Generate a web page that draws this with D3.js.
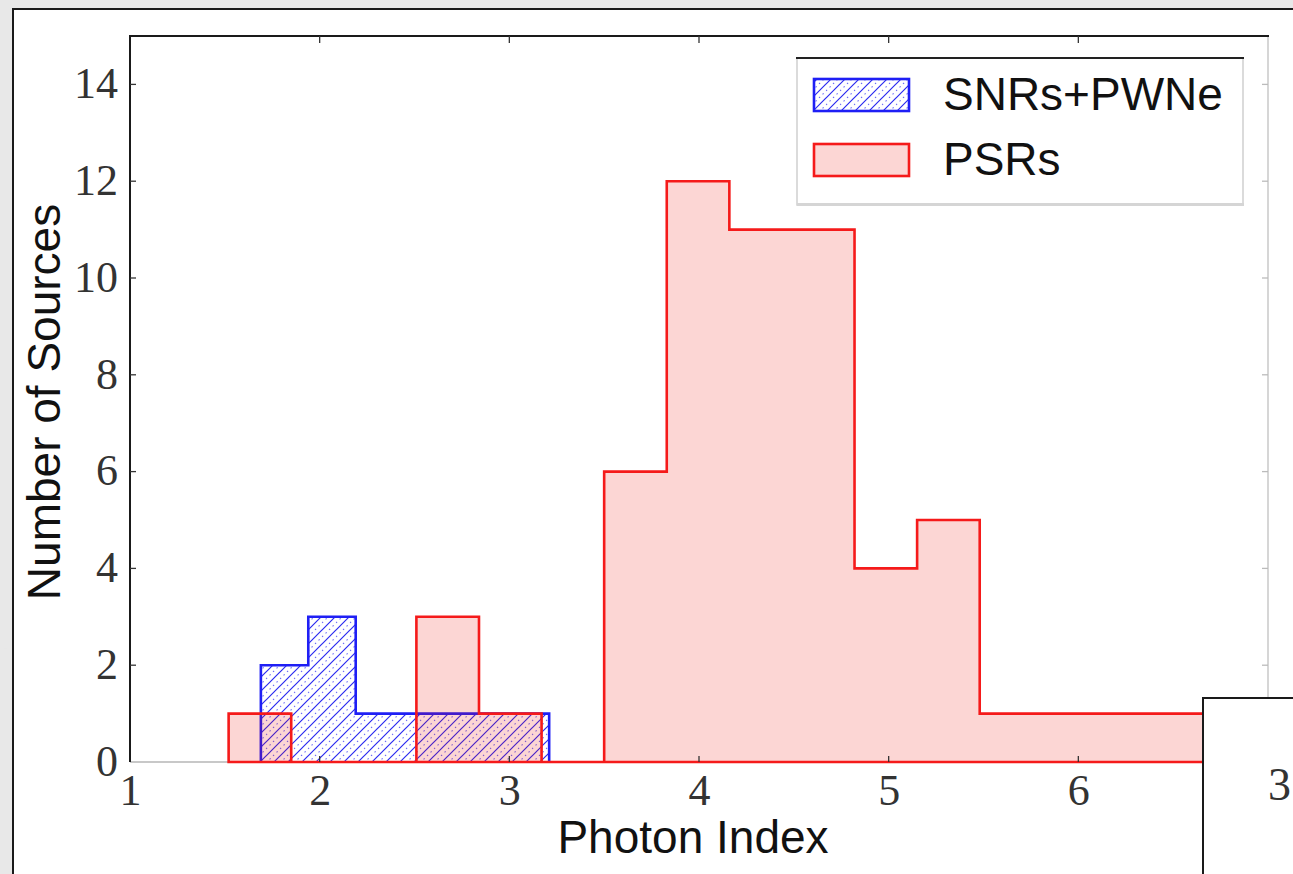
<!DOCTYPE html>
<html>
<head>
<meta charset="utf-8">
<script src="https://cdn.jsdelivr.net/npm/d3@7"></script>
<style>
  body { margin: 0; background: #e3e3e3; }
  svg { display: block; }
</style>
</head>
<body>
<div id="viz"></div>
<script>
// histogram data (bin edges + counts)
var psrEdges = [1.52, 1.85, 2.18, 2.51, 2.84, 3.17, 3.50, 3.83, 4.16, 4.49, 4.82, 5.15, 5.48, 5.81, 6.14, 6.47, 6.80];
var psrCounts = [1, 0, 0, 3, 1, 0, 6, 12, 11, 11, 4, 5, 1, 1, 1, 1];
var snrEdges = [1.69, 1.94, 2.19, 2.45, 2.70, 2.95, 3.21];
var snrCounts = [2, 3, 1, 1, 1, 1];
var xTicks = [1, 2, 3, 4, 5, 6];
var yTicks = [0, 2, 4, 6, 8, 10, 12, 14];
var legendLabels = ["SNRs+PWNe", "PSRs"];

var W = 1293, H = 874;
var svg = d3.select("#viz").append("svg").attr("width", W).attr("height", H);
var defs = svg.append("defs");

// marbled page background
var f = defs.append("filter").attr("id", "marble").attr("x", 0).attr("y", 0).attr("width", 1).attr("height", 1);
f.append("feTurbulence").attr("type", "fractalNoise").attr("baseFrequency", "0.02 0.05").attr("numOctaves", 3).attr("seed", 4);
f.append("feColorMatrix").attr("type", "matrix")
  .attr("values", "0 0 0 0 0.8  0 0 0 0 0.8  0 0 0 0 0.8  0.6 0.6 0.6 0 -0.7");
svg.append("rect").attr("width", W).attr("height", H).attr("fill", "#e8e8e8");
svg.append("rect").attr("width", W).attr("height", H).attr("fill", "#fff").attr("filter", "url(#marble)");

// hatch pattern
var pat = defs.append("pattern").attr("id", "hatch").attr("patternUnits", "userSpaceOnUse")
  .attr("width", 14).attr("height", 14);
pat.append("path").attr("d", "M-3.5,3.5 L3.5,-3.5 M0,14 L14,0 M10.5,17.5 L17.5,10.5")
  .attr("stroke", "#2a2af0").attr("stroke-width", 1.2).attr("fill", "none");
pat.append("path").attr("d", "M-3.5,10.5 L10.5,-3.5 M3.5,17.5 L17.5,3.5")
  .attr("stroke", "#6a6af5").attr("stroke-width", 1.1).attr("stroke-dasharray", "1.5,3.5").attr("fill", "none");

// outer figure frame
svg.append("rect").attr("x", 13).attr("y", 9).attr("width", W + 20).attr("height", H + 20)
  .attr("fill", "#fff").attr("stroke", "#1a1a1a").attr("stroke-width", 2);

var x = d3.scaleLinear().domain([1, 7]).range([130, 1268]);
var y = d3.scaleLinear().domain([0, 15]).range([762, 36]);

// light bottom/right spines go under the bars
svg.append("line").attr("x1", 130).attr("x2", 1268).attr("y1", 762).attr("y2", 762)
  .attr("stroke", "#c8c8c8").attr("stroke-width", 2);
svg.append("line").attr("x1", 1268).attr("x2", 1268).attr("y1", 36).attr("y2", 762)
  .attr("stroke", "#c8c8c8").attr("stroke-width", 1.5);

function stepPoints(edges, counts) {
  var pts = [[edges[0], 0]];
  counts.forEach(function(c, i) {
    pts.push([edges[i], c]);
    pts.push([edges[i + 1], c]);
  });
  pts.push([edges[edges.length - 1], 0]);
  return pts;
}
var line = d3.line().x(function(d) { return x(d[0]); }).y(function(d) { return y(d[1]); });

var plot = svg.append("g");
// SNR hatched histogram
var snrPts = stepPoints(snrEdges, snrCounts);
plot.append("path").attr("d", line(snrPts) + "Z").attr("fill", "url(#hatch)").attr("stroke", "none");
plot.append("path").attr("d", line(snrPts)).attr("fill", "none")
  .attr("stroke", "#1f1ff5").attr("stroke-width", 2.6).attr("stroke-linejoin", "miter");

// PSR filled histogram
var psrPts = stepPoints(psrEdges, psrCounts);
plot.append("path").attr("d", line(psrPts) + "Z")
  .attr("fill", "rgb(240,10,0)").attr("fill-opacity", 0.17)
  .attr("stroke", "#f51a1a").attr("stroke-width", 2.6).attr("stroke-linejoin", "miter");

// dark top/left spines
svg.append("line").attr("x1", 130).attr("x2", 1269).attr("y1", 36).attr("y2", 36)
  .attr("stroke", "#1a1a1a").attr("stroke-width", 2);
svg.append("line").attr("x1", 130).attr("x2", 130).attr("y1", 35).attr("y2", 762)
  .attr("stroke", "#1a1a1a").attr("stroke-width", 2);

// ticks
var tickFont = "'Liberation Serif', 'DejaVu Serif', serif";
var xAxis = svg.append("g").attr("transform", "translate(0,762)")
  .call(d3.axisBottom(x).tickValues(xTicks).tickSize(0).tickPadding(14).tickFormat(d3.format("d")));
xAxis.select(".domain").remove();
xAxis.selectAll("text").attr("font-family", tickFont).attr("font-size", 44).attr("fill", "#333").attr("dy", "0.65em");
xTicks.forEach(function(t) {
  if (t == 1) return;
  svg.append("line").attr("x1", x(t)).attr("x2", x(t)).attr("y1", 762).attr("y2", 756).attr("stroke", "#333").attr("stroke-width", 1.3);
  svg.append("line").attr("x1", x(t)).attr("x2", x(t)).attr("y1", 36).attr("y2", 43).attr("stroke", "#333").attr("stroke-width", 1.3);
});

var yAxis = svg.append("g").attr("transform", "translate(130,0)")
  .call(d3.axisLeft(y).tickValues(yTicks).tickSize(0).tickPadding(12).tickFormat(d3.format("d")));
yAxis.select(".domain").remove();
yAxis.selectAll("text").attr("font-family", tickFont).attr("font-size", 44).attr("fill", "#333").attr("dy", "0.3em");
yTicks.forEach(function(t) {
  if (t == 0) return;
  svg.append("line").attr("x1", 130).attr("x2", 136).attr("y1", y(t)).attr("y2", y(t)).attr("stroke", "#333").attr("stroke-width", 1.3);
  svg.append("line").attr("x1", 1268).attr("x2", 1262).attr("y1", y(t)).attr("y2", y(t)).attr("stroke", "#bbb").attr("stroke-width", 1.3);
});

// axis labels
var sans = "'Liberation Sans', Arial, sans-serif";
svg.append("text").attr("x", 693).attr("y", 853).attr("text-anchor", "middle")
  .attr("font-family", sans).attr("font-size", 46).attr("fill", "#111").text("Photon Index");
svg.append("text").attr("transform", "translate(60,402) rotate(-90)").attr("text-anchor", "middle")
  .attr("font-family", sans).attr("font-size", 46).attr("fill", "#111").text("Number of Sources");

// legend
var lg = svg.append("g");
lg.append("rect").attr("x", 797).attr("y", 58).attr("width", 446).attr("height", 147)
  .attr("fill", "#fff").attr("stroke", "#cfcfcf").attr("stroke-width", 1.5);
lg.append("line").attr("x1", 797).attr("x2", 1244).attr("y1", 204.5).attr("y2", 204.5).attr("stroke", "#d5d5d5").attr("stroke-width", 3);
lg.append("line").attr("x1", 796).attr("x2", 1244).attr("y1", 58).attr("y2", 58).attr("stroke", "#222").attr("stroke-width", 2);
lg.append("rect").attr("x", 814).attr("y", 79).attr("width", 95).attr("height", 32)
  .attr("fill", "url(#hatch)").attr("stroke", "#1f1ff5").attr("stroke-width", 2.6);
lg.append("rect").attr("x", 814).attr("y", 144).attr("width", 95).attr("height", 32)
  .attr("fill", "rgb(240,10,0)").attr("fill-opacity", 0.17).attr("stroke", "#f51a1a").attr("stroke-width", 2.6);
lg.selectAll("text.lbl").data(legendLabels).enter().append("text").attr("class", "lbl")
  .attr("x", 943).attr("y", function(d, i) { return 110 + i * 65; })
  .attr("font-family", sans).attr("font-size", 46).attr("fill", "#111").text(function(d) { return d; });

// neighbouring panel overlapping the lower right corner
svg.append("rect").attr("x", 1203).attr("y", 698).attr("width", 200).attr("height", 300)
  .attr("fill", "#fff").attr("stroke", "#1a1a1a").attr("stroke-width", 2);
svg.append("text").attr("x", 1268).attr("y", 800).attr("font-family", tickFont).attr("font-size", 46)
  .attr("fill", "#333").text("3");
</script>
</body>
</html>
